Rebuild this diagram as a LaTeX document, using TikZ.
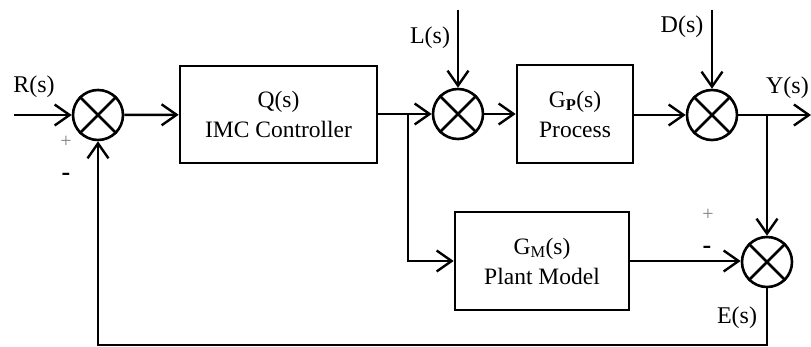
\documentclass[tikz,border=0pt]{standalone}
\usepackage{fontspec}
\setmainfont{Liberation Serif}
\usetikzlibrary{arrows.meta}
\begin{document}
\begin{tikzpicture}[x=1pt,y=-1pt,
  sumj/.style={circle,draw,line width=2.6pt,minimum size=50pt,inner sep=0pt},
  blk/.style={draw,line width=2.6pt,rectangle,align=center,inner sep=0pt,font=\fontsize{23.5}{30}\selectfont},
  lbl/.style={font=\fontsize{24}{26}\selectfont,inner sep=0pt},
  sgnp/.style={font=\fontsize{20}{20}\selectfont,inner sep=0pt,text=black!50},
  sgnm/.style={font=\bfseries\fontsize{26}{20}\selectfont,inner sep=0pt},
  conn/.style={line width=2.4pt,-{Straight Barb[length=15pt,width=21pt,line width=2.4pt]}},
  plain/.style={line width=2.4pt}
]
\useasboundingbox (0,0) rectangle (811,347);

% summing junctions
\node[sumj] (j1) at (98,115) {};
\node[sumj] (j2) at (458,114) {};
\node[sumj] (j3) at (712,115) {};
\node[sumj] (j4) at (767,262) {};
\foreach \j in {j1,j2,j3,j4}{
  \draw[line width=2.6pt] (\j.north west)--(\j.south east) (\j.north east)--(\j.south west);
}

% blocks
\node[blk,minimum width=197pt,minimum height=97pt] (q) at (278.5,114.5) {Q(s)\\IMC Controller};
\node[blk,minimum width=116pt,minimum height=98pt] (gp) at (575,114) {G\textsubscript{\textbf{P}}(s)\\Process};
\node[blk,minimum width=174pt,minimum height=98pt] (gm) at (542,261) {G\textsubscript{M}(s)\\Plant Model};

% coordinates
\coordinate (rin) at (14,115);
\coordinate (lin) at (458,10);
\coordinate (din) at (712,10);
\coordinate (yout) at (811,115);
\coordinate (b1) at (408,114);
\coordinate (b2) at (767,115);
\coordinate (fb1) at (767,345);
\coordinate (fb2) at (98,345);

% connectors
\draw[conn] (rin) -- (j1);
\draw[conn] (j1) -- (q);
\draw[conn] (q.east |- j2) -- (j2);
\draw[conn] (lin) -- (j2);
\draw[conn] (j2) -- (gp);
\draw[conn] (gp.east |- j3) -- (j3);
\draw[conn] (din) -- (j3);
\draw[conn] (j3) -- (yout);
\draw[conn] (b2) -- (j4);
\draw[conn] (b1) |- (gm.west);
\draw[conn] (gm.east) -- (gm.east -| j4.west);
\draw[conn] (j4.south) -- (fb1) -- (fb2) -- (j1.south);

% labels
\node[lbl] (rl) at (34,87) {R(s)};
\node[lbl] (ll) at (430,38) {L(s)};
\node[lbl] (dl) at (682,27) {D(s)};
\node[lbl,anchor=east] (yl) at (809,88) {Y(s)};
\node[lbl] (el) at (737,318) {E(s)};
\node[sgnp] (p1) at (66,142) {+};
\node[sgnm] (m1) at (66,177) {-};
\node[sgnp] (p2) at (708,215) {+};
\node[sgnm] (m2) at (707,250) {-};
\end{tikzpicture}
\end{document}
